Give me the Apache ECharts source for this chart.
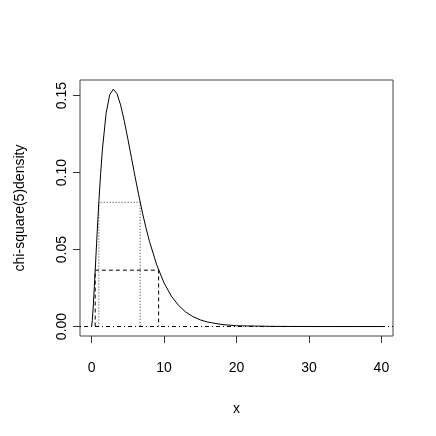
<!DOCTYPE html>
<html>
<head>
<meta charset="utf-8">
<script src="https://cdn.jsdelivr.net/npm/echarts@6/dist/echarts.min.js"></script>
<style>html,body{margin:0;padding:0;background:#fff;}#c{width:436px;height:436px;}</style>
</head>
<body>
<div id="c"></div>
<script>
// chi-square(5) density curve
var curveX = [0, 0.1, 0.25, 0.5, 0.75, 1, 1.25, 1.5, 2, 2.5, 3, 3.5, 4, 4.5, 5, 5.5, 6, 6.5, 7, 7.5, 8, 9, 10, 11, 12, 13, 14, 15, 16, 18, 20, 25, 30, 40];
var curveY = [0, 0.0040, 0.0147, 0.0366, 0.0594, 0.0807, 0.0995, 0.1154, 0.1384, 0.1506, 0.1542, 0.1513, 0.1440, 0.1338, 0.1220, 0.1097, 0.0973, 0.0855, 0.0744, 0.0642, 0.0551, 0.0399, 0.0283, 0.0198, 0.0137, 0.0094, 0.0064, 0.0043, 0.0029, 0.0013, 0.0005, 0.0001, 0, 0];
// dotted level band
var dottedLevel = 0.0807;
var dottedX = [1.0, 6.7];
// dashed level band
var dashedLevel = 0.0366;
var dashedX = [0.5, 9.25];
// axis ticks
var xTicks = [0, 10, 20, 30, 40];
var yTicks = [0, 0.05, 0.10, 0.15];
var xRange = [-1.6, 41.6];
var yRange = [-0.00616, 0.16016];

function pairs(xs, ys) { return xs.map(function (x, i) { return [x, ys[i]]; }); }
function band(xs, lvl) { return [[xs[0], 0], [xs[0], lvl], [xs[1], lvl], [xs[1], 0]]; }

var font = 'Liberation Sans, Arial, Helvetica, sans-serif';
var chart = echarts.init(document.getElementById('c'), null, { renderer: 'canvas' });
chart.setOption({
  animation: false,
  backgroundColor: '#fff',
  grid: { left: 80, right: 43, top: 80, bottom: 100, show: true, borderColor: '#444', borderWidth: 1, backgroundColor: 'transparent', containLabel: false, outerBoundsMode: 'none' },
  xAxis: {
    type: 'value', min: xRange[0], max: xRange[1],
    name: 'x', nameLocation: 'middle', nameGap: 66,
    nameTextStyle: { fontFamily: font, fontSize: 14, color: '#000' },
    axisLine: { show: false, onZero: false },
    splitLine: { show: false },
    axisTick: { show: true, length: 7, inside: false, customValues: xTicks, lineStyle: { color: '#333' } },
    axisLabel: { customValues: xTicks, margin: 25, fontFamily: font, fontSize: 14, color: '#000', formatter: function (v) { return String(v); } }
  },
  yAxis: {
    type: 'value', min: yRange[0], max: yRange[1],
    name: 'chi-square(5)density', nameLocation: 'middle', nameGap: 53, nameRotate: 90,
    nameTextStyle: { fontFamily: font, fontSize: 14, color: '#000' },
    axisLine: { show: false, onZero: false },
    splitLine: { show: false },
    axisTick: { show: true, length: 7, inside: false, customValues: yTicks, lineStyle: { color: '#333' } },
    axisLabel: { customValues: yTicks, margin: 11, rotate: 90, fontFamily: font, fontSize: 14, color: '#000', formatter: function (v) { return v.toFixed(2); } }
  },
  series: [
    { type: 'line', data: [[xRange[0], 0], [xRange[1], 0]], showSymbol: false, silent: true,
      lineStyle: { color: '#000', width: 1, type: [1, 3, 4, 3] } },
    { type: 'line', data: band(dottedX, dottedLevel), showSymbol: false, silent: true,
      lineStyle: { color: '#333', width: 1, type: [1, 2] } },
    { type: 'line', data: band(dashedX, dashedLevel), showSymbol: false, silent: true,
      lineStyle: { color: '#000', width: 1, type: [4, 3] } },
    { type: 'line', data: pairs(curveX, curveY), showSymbol: false, silent: true,
      lineStyle: { color: '#000', width: 1 } }
  ]
});
</script>
</body>
</html>
